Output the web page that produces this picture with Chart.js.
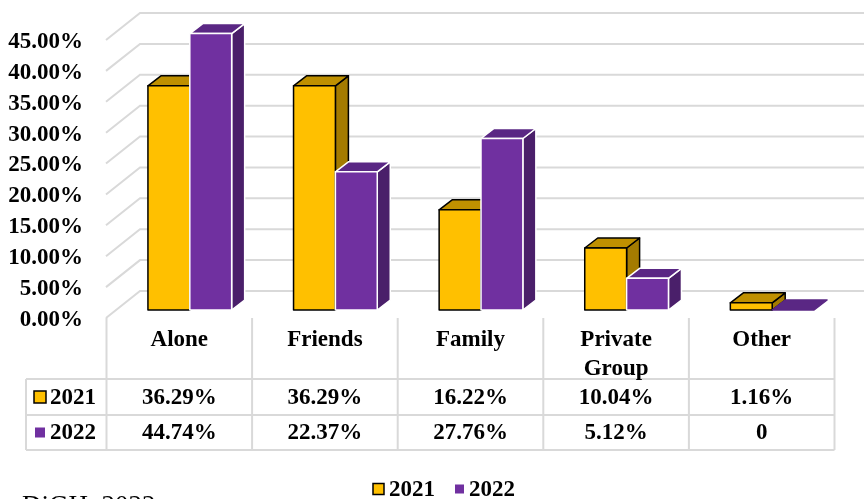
<!DOCTYPE html>
<html lang="en">
<head>
<meta charset="UTF-8">
<title>Travel Companions 2021-2022</title>
<script src="https://cdn.jsdelivr.net/npm/chart.js"></script>
<style>
    body { margin: 0; background: #fff; }
    #wrap { width: 864px; height: 499px; }
</style>
</head>
<body>
<div id="wrap"><canvas id="chart" width="864" height="499"></canvas></div>
<script>
    // chart values
    const categories = ['Alone', 'Friends', 'Family', ['Private', 'Group'], 'Other'];
    const seriesNames = ['2021', '2022'];
    const values2021 = [36.29, 36.29, 16.22, 10.04, 1.16];
    const values2022 = [44.74, 22.37, 27.76, 5.12, 0];
    const yMax = 45;
    const yStep = 5;
    const sourceNote = 'DiGH, 2022';

    const FONT = "'Liberation Serif', 'Times New Roman', serif";
    const DX = 13, DY = -10;   // bar depth
    const styles = [
        { front: '#ffc000', top: '#bf9000', side: '#a47b00', edge: '#000000', key: [12, 12] },
        { front: '#7030a0', top: '#5a2784', side: '#4a1f6a', edge: '#ffffff', key: [10, 10] }
    ];

    function fmt(v) {
        return v === 0 ? '0' : v.toFixed(2) + '%';
    }

    function poly(ctx, pts, fill, edge) {
        ctx.beginPath();
        ctx.moveTo(pts[0][0], pts[0][1]);
        for (let k = 1; k < pts.length; k++) ctx.lineTo(pts[k][0], pts[k][1]);
        ctx.closePath();
        ctx.fillStyle = fill;
        ctx.fill();
        ctx.strokeStyle = edge;
        ctx.stroke();
    }

    const threeD = {
        id: 'threeD',
        beforeDatasetsDraw(chart) {
            const ctx = chart.ctx;
            const xs = chart.scales.x, ys = chart.scales.y;
            const wallFront = xs.left - 11, wallBack = xs.left + 23;

            ctx.save();
            // back wall + side wall grid
            ctx.strokeStyle = '#d9d9d9';
            ctx.lineWidth = 2;
            ys.ticks.forEach(t => {
                const py = ys.getPixelForValue(t.value);
                ctx.beginPath();
                ctx.moveTo(wallFront, py + 8);
                ctx.lineTo(wallBack, py - 19);
                ctx.lineTo(chart.width, py - 19);
                ctx.stroke();
            });

            // bars, category by category so the faces overlap properly
            ctx.lineWidth = 1.5;
            ctx.lineJoin = 'round';
            for (let i = 0; i < categories.length; i++) {
                chart.data.datasets.forEach((ds, d) => {
                    const bar = chart.getDatasetMeta(d).data[i];
                    const p = bar.getProps(['x', 'y', 'base', 'width'], true);
                    const l = p.x - p.width / 2, r = p.x + p.width / 2;
                    const st = styles[d];
                    const tall = p.base - p.y > 0.5;
                    if (tall) {
                        poly(ctx, [[r, p.y], [r + DX, p.y + DY], [r + DX, p.base + DY], [r, p.base]], st.side, st.edge);
                    }
                    poly(ctx, [[l, p.y], [r, p.y], [r + DX, p.y + DY], [l + DX, p.y + DY]], st.top, tall ? st.edge : st.top);
                    if (tall) {
                        poly(ctx, [[l, p.y], [r, p.y], [r, p.base], [l, p.base]], st.front, st.edge);
                    }
                });
            }
            ctx.restore();
            return false;
        },
        afterDraw(chart) {
            const ctx = chart.ctx;
            const xs = chart.scales.x, ys = chart.scales.y;
            const base = ys.getPixelForValue(0);
            const colW = xs.width / categories.length;
            const colLeft = xs.left - 10.5;
            const keyLeft = 26;
            const tTop = base + 8, r1 = base + 69, r2 = base + 105, tBot = base + 140;
            const rows = [values2021, values2022];

            ctx.save();
            // data table grid
            ctx.strokeStyle = '#d9d9d9';
            ctx.lineWidth = 2;
            ctx.beginPath();
            [r1, r2, tBot].forEach(yy => {
                ctx.moveTo(keyLeft, yy);
                ctx.lineTo(colLeft + colW * categories.length, yy);
            });
            ctx.moveTo(keyLeft, r1);
            ctx.lineTo(keyLeft, tBot);
            for (let c = 0; c <= categories.length; c++) {
                ctx.moveTo(colLeft + c * colW, tTop);
                ctx.lineTo(colLeft + c * colW, tBot);
            }
            ctx.stroke();

            ctx.fillStyle = '#000';
            ctx.font = 'bold 23px ' + FONT;
            ctx.textAlign = 'center';
            ctx.textBaseline = 'middle';
            categories.forEach((cat, c) => {
                const cx = colLeft + (c + 0.5) * colW;
                const lines = Array.isArray(cat) ? cat : [cat];
                lines.forEach((ln, k) => ctx.fillText(ln, cx, base + 30 + k * 29));
                rows.forEach((vals, rI) => {
                    ctx.fillText(fmt(vals[c]), cx, (rI === 0 ? r1 + r2 : r2 + tBot) / 2 + 1);
                });
            });

            // row keys
            ctx.textAlign = 'left';
            ctx.lineWidth = 1.5;
            seriesNames.forEach((name, rI) => {
                const cy = (rI === 0 ? r1 + r2 : r2 + tBot) / 2;
                const st = styles[rI];
                const [kw, kh] = st.key;
                ctx.fillStyle = st.front;
                ctx.fillRect(40 - kw / 2, cy - kh / 2, kw, kh);
                if (rI === 0) {
                    ctx.strokeStyle = '#000';
                    ctx.strokeRect(40 - kw / 2, cy - kh / 2, kw, kh);
                }
                ctx.fillStyle = '#000';
                ctx.fillText(name, 50, cy + 1);
            });

            // bottom legend
            const legY = 489;
            const legX = [373, 455];
            seriesNames.forEach((name, d) => {
                const st = styles[d];
                const s = d === 0 ? 11 : 9;
                ctx.fillStyle = st.front;
                ctx.fillRect(legX[d], legY - s / 2, s, s);
                if (d === 0) {
                    ctx.strokeStyle = '#000';
                    ctx.strokeRect(legX[d], legY - s / 2, s, s);
                }
                ctx.fillStyle = '#000';
                ctx.fillText(name, legX[d] + (d === 0 ? 16 : 14), legY + 1);
            });

            // source note, clipped at the bottom edge
            ctx.font = '27px ' + FONT;
            ctx.textBaseline = 'alphabetic';
            ctx.fillText(sourceNote, 22, 514);
            ctx.restore();
        }
    };

    const ctx = document.getElementById('chart').getContext('2d');
    new Chart(ctx, {
        type: 'bar',
        data: {
            labels: categories,
            datasets: [
                { label: seriesNames[0], data: values2021, backgroundColor: styles[0].front },
                { label: seriesNames[1], data: values2022, backgroundColor: styles[1].front }
            ]
        },
        options: {
            responsive: false,
            animation: false,
            devicePixelRatio: 1,
            layout: { padding: { top: 32, right: 19, bottom: 189, left: 0 } },
            datasets: { bar: { categoryPercentage: 0.575, barPercentage: 1 } },
            plugins: { legend: { display: false }, tooltip: { enabled: false } },
            scales: {
                x: { display: false },
                y: {
                    min: 0,
                    max: yMax,
                    afterFit: scale => {
                        scale.width = 117;
                        scale.paddingTop = 0;
                        scale.paddingBottom = 0;
                    },
                    grid: { display: false, drawTicks: false },
                    border: { display: false },
                    ticks: {
                        stepSize: yStep,
                        padding: 34,
                        labelOffset: 10,
                        color: '#000',
                        font: { family: FONT, size: 23, weight: 'bold' },
                        callback: v => v.toFixed(2) + '%'
                    }
                }
            }
        },
        plugins: [threeD]
    });
</script>
</body>
</html>
